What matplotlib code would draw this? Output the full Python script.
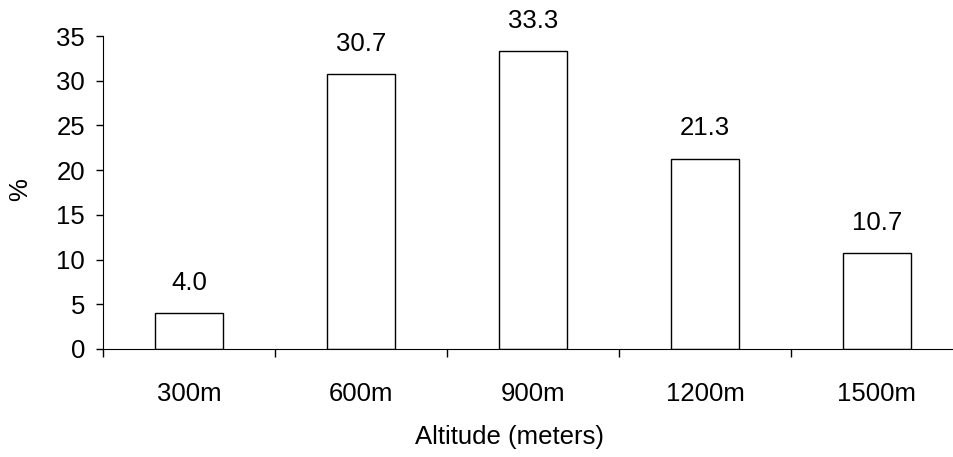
import numpy as np
import matplotlib.pyplot as plt

plt.rcParams['font.family'] = ['Liberation Sans', 'DejaVu Sans']

# Share of records by altitude band
altitudes = ["300m", "600m", "900m", "1200m", "1500m"]
percent = [4.0, 30.7, 33.3, 21.3, 10.7]

fs = 18.5

fig = plt.figure(figsize=(9.54, 4.57), dpi=100)
ax = fig.add_axes([103 / 954, 108 / 457, 860 / 954, 313 / 457])

x = np.arange(len(altitudes))
bars = ax.bar(x, percent, width=0.4, color="white", edgecolor="black", linewidth=1.0)

for rect, val in zip(bars, percent):
    ax.annotate(f"{val:.1f}", (rect.get_x() + rect.get_width() / 2, rect.get_height()),
                xytext=(0, 13), textcoords="offset points",
                ha="center", va="bottom", fontsize=fs)

ax.set_xlim(-0.5, len(altitudes) - 0.5)
ax.set_ylim(0, 35)
ax.set_yticks(range(0, 36, 5))
ax.set_xticks(x)
ax.set_xticklabels(altitudes)
ax.set_xticks(np.arange(-0.5, len(altitudes), 1.0), minor=True)

ax.tick_params(axis="y", direction="out", length=5, width=1, pad=8, labelsize=fs)
ax.tick_params(axis="x", which="major", length=0, pad=24, labelsize=fs)
ax.tick_params(axis="x", which="minor", direction="out", length=6, width=1)

ax.spines["top"].set_visible(False)
ax.spines["right"].set_visible(False)

ax.set_ylabel("%", fontsize=fs)
ax.yaxis.set_label_coords(-(103 - 20) / 860, (349 - 190) / 313)
ax.set_xlabel("Altitude (meters)", fontsize=fs)
ax.xaxis.set_label_coords((510 - 103) / 860, -(437 - 349) / 313)
ax.xaxis.label.set_va("center")
ax.yaxis.label.set_va("center")

fig.savefig("out.png", dpi=100)
